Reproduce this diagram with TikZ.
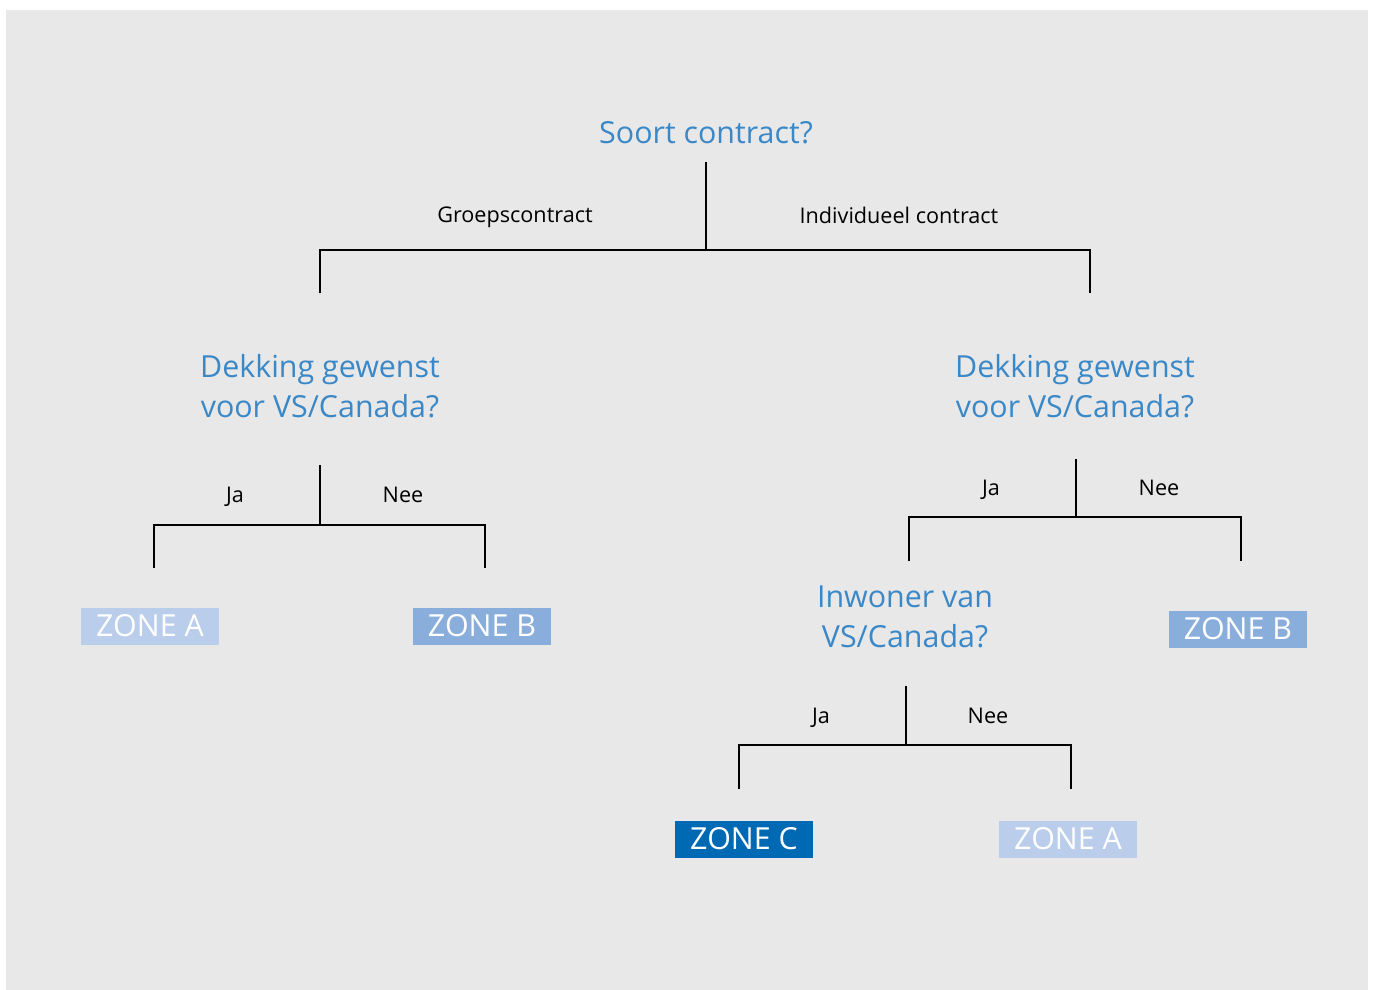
\documentclass[tikz,border=0pt]{standalone}
\usepackage{fontspec}
\setmainfont{Open Sans}

\definecolor{bggrey}{HTML}{E8E8E8}
\definecolor{qblue}{HTML}{3A88C8}
\definecolor{zonea}{HTML}{BACDEB}
\definecolor{zoneb}{HTML}{8AAEDC}
\definecolor{zonec}{HTML}{0069B4}

\tikzstyle{question}=[text=qblue,align=center,inner sep=0pt,font=\fontsize{17.3}{22.7}\selectfont]
\tikzstyle{answer}=[inner sep=0pt,text depth=0pt,font=\fontsize{12.3}{15}\selectfont]
\tikzstyle{zone}=[text=white,minimum width=2.76cm,minimum height=0.74cm,inner sep=0pt,font=\fontsize{17.3}{20}\selectfont]
\tikzstyle{edge} = [draw,line width=0.8pt,-]

\begin{document}
\begin{tikzpicture}[x=0.02cm, y=-0.02cm]
			\useasboundingbox (0,0) rectangle (1373,990);
			\fill [bggrey] (6,10) rectangle (1368,990);

			\node [question] (soort)    at (706,133) {Soort contract?};
			\node [question] (dekgroep) at (320,386) {Dekking gewenst\\voor VS/Canada?};
			\node [question] (dekindiv) at (1075,386) {Dekking gewenst\\voor VS/Canada?};
			\node [question] (inwoner)  at (905,617) {Inwoner van\\VS/Canada?};

			\node [answer] (groep)  at (515,215) {Groepscontract};
			\node [answer] (indiv)  at (899,215) {Individueel contract};
			\node [answer] (ja1)    at (235,495) {Ja};
			\node [answer] (nee1)   at (403,495) {Nee};
			\node [answer] (ja2)    at (991,488) {Ja};
			\node [answer] (nee2)   at (1159,488) {Nee};
			\node [answer] (ja3)    at (821,716) {Ja};
			\node [answer] (nee3)   at (988,716) {Nee};

			\node [zone,fill=zonea] (zonea1) at (150,626) {ZONE A};
			\node [zone,fill=zoneb] (zoneb1) at (482,626) {ZONE B};
			\node [zone,fill=zoneb] (zoneb2) at (1238,629) {ZONE B};
			\node [zone,fill=zonec] (zonec1) at (744,839) {ZONE C};
			\node [zone,fill=zonea] (zonea2) at (1068,839) {ZONE A};

			\coordinate (fork1) at (706,250);
			\coordinate (fork2) at (320,525);
			\coordinate (fork3) at (1076,517);
			\coordinate (fork4) at (906,745);
			\coordinate (left1)  at (320,293);
			\coordinate (right1) at (1090,293);
			\coordinate (left2)  at (154,568);
			\coordinate (right2) at (485,568);
			\coordinate (left3)  at (909,561);
			\coordinate (right3) at (1241,561);
			\coordinate (left4)  at (739,789);
			\coordinate (right4) at (1071,789);

			\draw [edge,shorten <=0.34cm] (soort.south) -- (fork1);
			\draw [edge] (left1) |- (fork1) -| (right1);
			\draw [edge,shorten <=0.94cm] (dekgroep.south) -- (fork2);
			\draw [edge] (left2) |- (fork2) -| (right2);
			\draw [edge,shorten <=0.82cm] (dekindiv.south -| fork3) -- (fork3);
			\draw [edge] (left3) |- (fork3) -| (right3);
			\draw [edge,shorten <=0.76cm] (inwoner.south -| fork4) -- (fork4);
			\draw [edge] (left4) |- (fork4) -| (right4);
	\end{tikzpicture}
\end{document}
